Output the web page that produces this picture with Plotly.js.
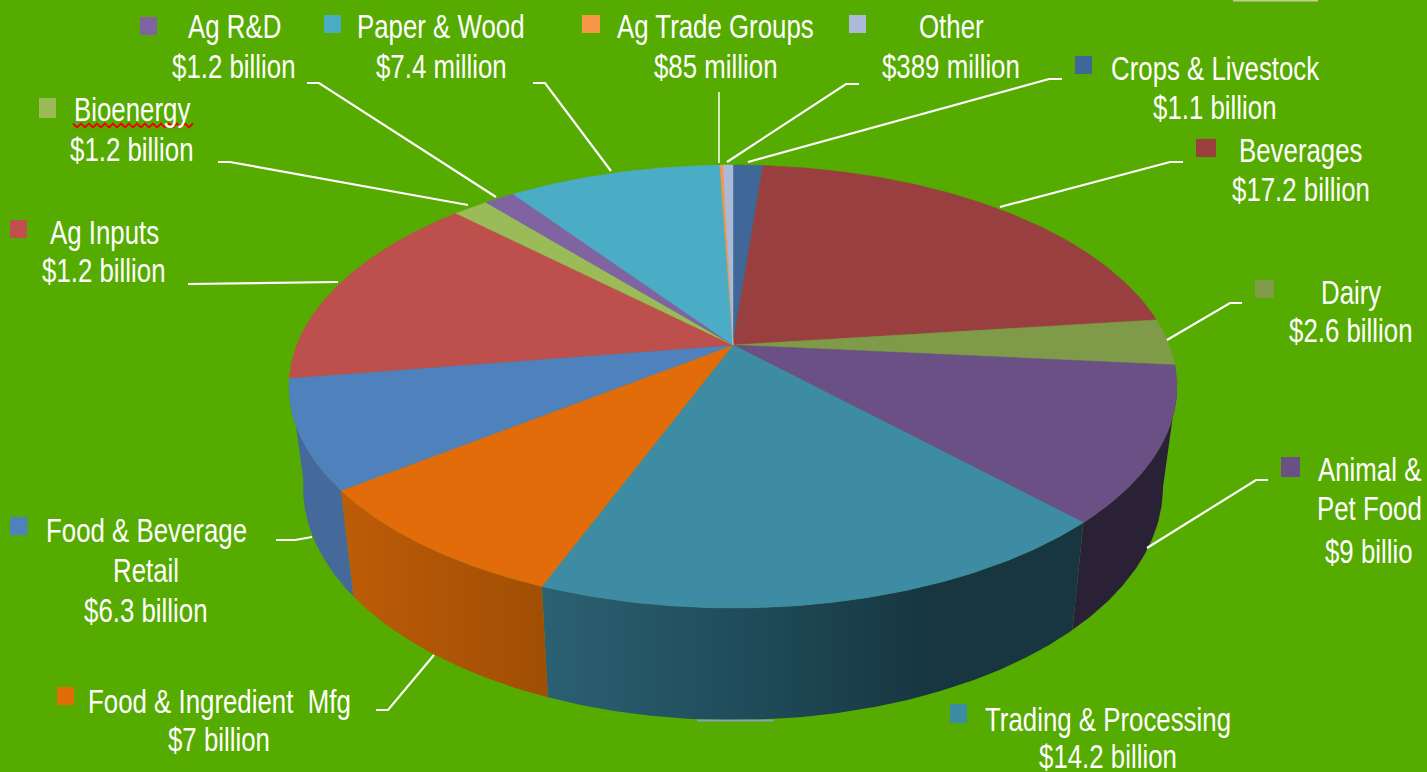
<!DOCTYPE html>
<html>
<head>
<meta charset="utf-8">
<script src="https://cdn.plot.ly/plotly-3.0.1.min.js"></script>
<style>
html,body{margin:0;padding:0;background:#56ab00;overflow:hidden}
#chart{width:1427px;height:772px}
.annotation-text{transform-box:fill-box;transform-origin:center;transform:scaleX(0.76)}
</style>
</head>
<body>
<div id="chart"></div>
<script>
// ---- data ----
var categories = ["Crops & Livestock","Beverages","Dairy","Animal & Pet Food","Trading & Processing","Food & Ingredient Mfg","Food & Beverage Retail","Ag Inputs","Bioenergy","Ag R&D","Paper & Wood","Ag Trade Groups","Other"];
var sliceShares = [1.08,19.06,3.31,12.08,21.56,10.14,8.39,13.67,1.33,1.14,7.78,0.11,0.36];
var labelLines = [
  ["Crops & Livestock","$1.1 billion"],
  ["Beverages","$17.2 billion"],
  ["Dairy","$2.6 billion"],
  ["Animal &","Pet Food","$9 billio"],
  ["Trading & Processing","$14.2 billion"],
  ["Food & Ingredient  Mfg","$7 billion"],
  ["Food & Beverage","Retail","$6.3 billion"],
  ["Ag Inputs","$1.2 billion"],
  ["Bioenergy","$1.2 billion"],
  ["Ag R&D","$1.2 billion"],
  ["Paper & Wood","$7.4 million"],
  ["Ag Trade Groups","$85 million"],
  ["Other","$389 million"]
];
// ---- styles ----
var topColors = ["#3f6797","#9a3f3f","#7f9a48","#6a5085","#3d8ca3","#e26b0a","#4f81bd","#bd4f4c","#9bbb59","#8064a2","#4bacc6","#f79646","#aabad7"];
var legendColors = ["#3f6797","#9a3f3f","#7f9a48","#6a5085","#3d8ca3","#e26b0a","#4f81bd","#c0504d","#9bbb59","#8064a2","#4bacc6","#f79646","#aabad7"];
var sideStyles = {
  3:[[0,"#2b2137"],[1,"#2b2137"]],
  4:[[0,"#2b6173"],[0.45,"#1d4755"],[0.72,"#17363f"],[1,"#17363f"]],
  5:[[0,"#bd5c08"],[1,"#a04e04"]],
  6:[[0,"#44699a"],[1,"#44699a"]]
};
// ---- layout ----
var BG = "#56ab00";
var topEllipse = {cx:733, cy:386.5, rx:444, ry:221.5};
var bottomEllipse = {cx:733, cy:487, rx:430, ry:233};
var apex = {x:733, y:345};
var labelPos = [
  [1215,[68,107]],[1301,[150,189]],[1351,[292,330]],[1369,[469,508,551]],
  [1108,[719,756]],[219,[701,739]],[146,[530,570,610]],[104,[232,270]],
  [132,[109,149]],[234,[26,66]],[441,[26,66]],[715,[26,66]],[951,[26,66]]
];
var keyBoxes = [
  [1075,56,1092,74],[1196,139,1216,157],[1255,280,1274,298],[1281,457,1300,477],
  [950,704,967,723],[57,687,74,705],[10,517,27.5,535],[10,220,27,238],
  [39,98,56,118],[140,17,157,35],[324,15,341,33],[582,15,600,33],[849,15,866,33]
];
var leaders = [
  [[1062,1049,748],[79,79,162]],
  [[1183,1170,1000],[162,162,207]],
  [[1242,1230,1167],[303,303,340]],
  [[1268,1256,1147],[480,480,548]],
  null,
  [[376,388,434],[710,710,655]],
  [[276,295,312],[540,540,537]],
  [[188,338],[284,282]],
  [[218,230,468],[162,162,205]],
  [[307,319,496],[83,83,197]],
  [[533,545,611],[83,83,171]],
  [[719,719],[92,163]],
  [[859,846,727],[84,84,162]]
];
var FONT = "'Liberation Sans',Arial,sans-serif";
var FONT_SIZE = 34;

function rim(e, deg){
  var r = deg*Math.PI/180;
  return [e.cx + e.rx*Math.sin(r), e.cy - e.ry*Math.cos(r)];
}
function arc(e, a, b){
  var pts = [], n = Math.max(2, Math.ceil(Math.abs(b-a)/0.5));
  for (var i=0;i<=n;i++) pts.push(rim(e, a+(b-a)*i/n));
  return pts;
}
var total = sliceShares.reduce(function(s,v){return s+v;},0);
var edges = [0];
sliceShares.forEach(function(v,i){ edges.push(edges[i]+v/total*360); });

var traces = [];
// side walls, only where the rim faces the viewer
sliceShares.forEach(function(v,i){
  if (!sideStyles[i]) return;
  var a = Math.max(edges[i],90), b = Math.min(edges[i+1],272);
  var pts = arc(topEllipse,a,b).concat(arc(bottomEllipse,b,a));
  pts.push(pts[0]);
  traces.push({type:"scatter",mode:"lines",name:categories[i]+" side",
    x:pts.map(function(p){return p[0];}),y:pts.map(function(p){return p[1];}),
    line:{width:0},fill:"toself",fillcolor:sideStyles[i][0][1],
    fillgradient:{type:"horizontal",colorscale:sideStyles[i]},hoverinfo:"skip"});
});
// top faces
sliceShares.forEach(function(v,i){
  var pts = [[apex.x,apex.y]].concat(arc(topEllipse,edges[i],edges[i+1]));
  pts.push([apex.x,apex.y]);
  traces.push({type:"scatter",mode:"lines",name:categories[i],
    x:pts.map(function(p){return p[0];}),y:pts.map(function(p){return p[1];}),
    line:{width:0.5,color:topColors[i]},fill:"toself",fillcolor:topColors[i],hoverinfo:"skip"});
});
// leader lines
leaders.forEach(function(l,i){
  if (!l) return;
  traces.push({type:"scatter",mode:"lines",name:categories[i]+" leader",x:l[0],y:l[1],
    line:{color:"#ffffff",width:i===11?1.5:2.2},hoverinfo:"skip"});
});
// spell-check squiggle under Bioenergy
var sqX=[],sqY=[];
for (var q=73;q<=195;q+=4){ sqX.push(q); sqY.push(((q-73)/4)%2===0?123.5:127.5); }
traces.push({type:"scatter",mode:"lines",name:"squiggle",x:sqX,y:sqY,line:{color:"#f00000",width:1.8},hoverinfo:"skip"});

var annotations = [];
labelLines.forEach(function(lines,i){
  lines.forEach(function(t,j){
    annotations.push({xref:"x",yref:"y",x:labelPos[i][0],y:labelPos[i][1][j],text:t,showarrow:false,
      xanchor:"center",yanchor:"middle",font:{family:FONT,size:FONT_SIZE,color:"#ffffff"}});
  });
});
var shapes = keyBoxes.map(function(b,i){
  return {type:"rect",xref:"x",yref:"y",x0:b[0],y0:b[1],x1:b[2],y1:b[3],fillcolor:legendColors[i],line:{width:0}};
});
shapes.push({type:"rect",xref:"x",yref:"y",x0:1233,y0:-1,x1:1318,y1:1.5,fillcolor:"#c3cf93",line:{width:0}});
shapes.push({type:"line",xref:"x",yref:"y",x0:697,y0:720.5,x1:774,y1:720.5,line:{color:"#86a3a8",width:2}});

Plotly.newPlot("chart",traces,{
  width:1427,height:772,margin:{l:0,r:0,t:0,b:0},
  paper_bgcolor:BG,plot_bgcolor:BG,showlegend:false,hovermode:false,
  xaxis:{range:[0,1427],visible:false,fixedrange:true},
  yaxis:{range:[772,0],visible:false,fixedrange:true},
  annotations:annotations,shapes:shapes
},{displayModeBar:false,staticPlot:true});
</script>
</body>
</html>
